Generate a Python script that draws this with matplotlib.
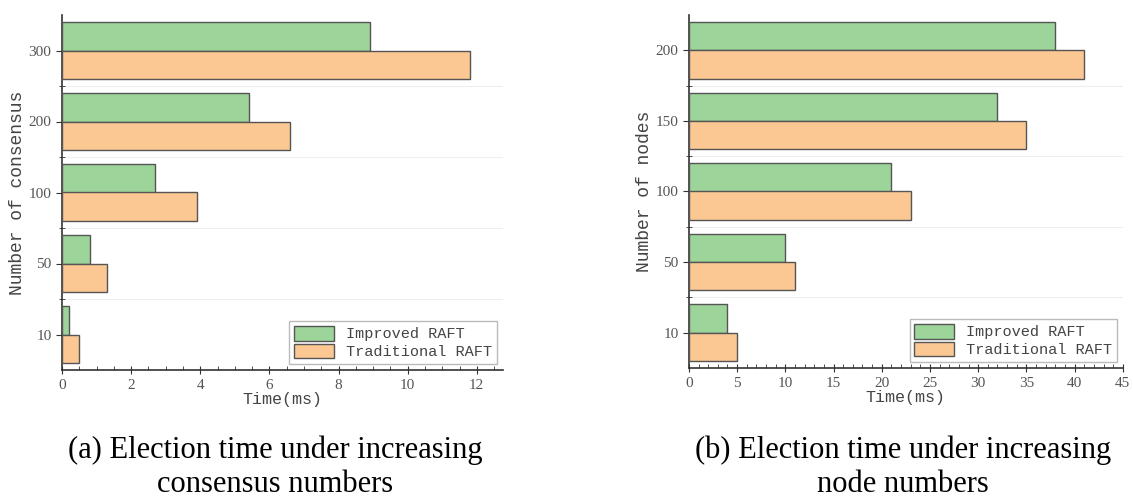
import matplotlib.pyplot as plt
import numpy as np
from matplotlib.ticker import MultipleLocator

# data
consensus = ['10', '50', '100', '200', '300']
cons_improved = [0.2, 0.8, 2.7, 5.4, 8.9]
cons_traditional = [0.5, 1.3, 3.9, 6.6, 11.8]

nodes = ['10', '50', '100', '150', '200']
nodes_improved = [4, 10, 21, 32, 38]
nodes_traditional = [5, 11, 23, 35, 41]

green = '#9dd49a'
orange = '#fbc793'
edge = '#555555'

plt.rcParams['font.family'] = ['Liberation Serif', 'DejaVu Serif']

fig = plt.figure(figsize=(11.33, 5), dpi=100)


def draw_panel(ax, cats, improved, traditional, xmax, xmajor, xminor, ylabel):
    y = np.arange(len(cats))
    h = 0.4
    ax.barh(y + h / 2, improved, height=h, color=green, edgecolor=edge,
            linewidth=1, label='Improved RAFT', zorder=3)
    ax.barh(y - h / 2, traditional, height=h, color=orange, edgecolor=edge,
            linewidth=1, label='Traditional RAFT', zorder=3)
    ax.set_ylim(-0.5, len(cats) - 0.5)
    ax.set_xlim(0, xmax)
    ax.set_yticks(y)
    ax.set_yticklabels(cats)
    ax.set_yticks(y[:-1] + 0.5, minor=True)
    ax.xaxis.set_major_locator(MultipleLocator(xmajor))
    ax.xaxis.set_minor_locator(MultipleLocator(xminor))
    ax.grid(axis='y', which='minor', color='#eeeeee', linewidth=0.8, zorder=0)
    for s in ['top', 'right']:
        ax.spines[s].set_visible(False)
    for s in ['left', 'bottom']:
        ax.spines[s].set_color('#333333')
        ax.spines[s].set_linewidth(1.2)
    ax.tick_params(axis='x', which='major', direction='inout', length=6,
                   labelsize=11, labelcolor='#555555', color='#333333')
    ax.tick_params(axis='x', which='minor', direction='in', length=3, color='#333333')
    ax.tick_params(axis='y', which='major', direction='out', length=4,
                   labelsize=11, labelcolor='#555555', color='#333333')
    ax.tick_params(axis='y', which='minor', direction='inout', length=4, color='#333333')
    ax.set_xlabel('Time(ms)', fontsize=12, color='#444444', family='Liberation Mono', labelpad=0)
    ax.set_ylabel(ylabel, fontsize=13, color='#444444', family='Liberation Mono', labelpad=2)
    leg = ax.legend(loc='lower right', frameon=True, fancybox=False,
                    handlelength=2.6, handleheight=1.1, handletextpad=0.8,
                    borderpad=0.3, labelspacing=0.15, borderaxespad=0.4,
                    prop={'family': 'Liberation Mono', 'size': 11})
    leg.get_frame().set_edgecolor('#aaaaaa')
    leg.get_frame().set_linewidth(1)
    for t in leg.get_texts():
        t.set_color('#444444')


ax1 = fig.add_axes([0.0547, 0.26, 0.389, 0.71])
draw_panel(ax1, consensus, cons_improved, cons_traditional, 12.75, 2, 0.5,
           'Number of consensus')

ax2 = fig.add_axes([0.608, 0.264, 0.383, 0.706])
draw_panel(ax2, nodes, nodes_improved, nodes_traditional, 45, 5, 1,
           'Number of nodes')

fig.text(0.243, 0.002, '(a) Election time under increasing\nconsensus numbers',
         ha='center', va='bottom', fontsize=22, linespacing=1.22)
fig.text(0.797, 0.002, '(b) Election time under increasing\nnode numbers',
         ha='center', va='bottom', fontsize=22, linespacing=1.22)

fig.savefig('out.png', dpi=100)
